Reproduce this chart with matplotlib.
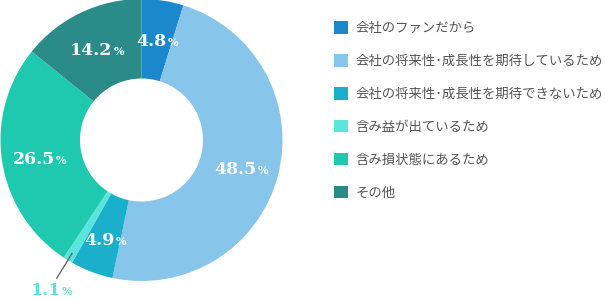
import numpy as np
import matplotlib
matplotlib.use('Agg')
import matplotlib.pyplot as plt
from matplotlib.patches import Patch
from matplotlib.offsetbox import TextArea, HPacker, AnnotationBbox

plt.rcParams['font.family'] = ['Noto Sans CJK JP', 'DejaVu Sans']

categories = ['会社のファンだから',
              '会社の将来性･成長性を期待しているため',
              '会社の将来性･成長性を期待できないため',
              '含み益が出ているため',
              '含み損状態にあるため',
              'その他']
values = [4.8, 48.5, 4.9, 1.1, 26.5, 14.2]
value_labels = ['4.8', '48.5', '4.9', '1.1', '26.5', '14.2']
colors = ['#1b88cc', '#88c5ea', '#1ab0cc', '#5ae4dc', '#1fc9b0', '#2a8b88']

# layout in pixel units (figure is 605x300)
cx, cy = 141.5, 160
r_out, r_in = 141, 61.5

fig = plt.figure(figsize=(6.05, 3.0), dpi=100)
ax = fig.add_axes([0, 0, 1, 1])
wedges, _ = ax.pie(values, colors=colors, startangle=90, counterclock=False,
                   radius=r_out, center=(cx, cy), frame=True,
                   wedgeprops=dict(width=r_out - r_in, edgecolor='none'))
ax.set_xlim(0, 605)
ax.set_ylim(0, 300)
ax.set_aspect('equal')
ax.axis('off')


def pct_label(x, y, num, color):
    big = TextArea(num, textprops=dict(family='DejaVu Serif', weight='bold',
                                       size=12.5, color=color))
    small = TextArea('%', textprops=dict(family='DejaVu Serif', weight='bold',
                                         size=8, color=color))
    box = HPacker(children=[big, small], align='baseline', pad=0, sep=1)
    ab = AnnotationBbox(box, (x, y), frameon=False, box_alignment=(0.5, 0.5))
    ax.add_artist(ab)


r_mid = (r_out + r_in) / 2 + 2
for w, lab, v in zip(wedges, value_labels, values):
    ang = np.deg2rad((w.theta1 + w.theta2) / 2)
    dx, dy = np.cos(ang), np.sin(ang)
    if v < 2:
        # small slice: leader line and outside label
        ax.plot([cx + dx * 133, cx + dx * 162], [cy + dy * 133, cy + dy * 162],
                color='#666666', lw=1)
        pct_label(cx + dx * 176 + 2, cy + dy * 176, lab, '#5ae4dc')
    else:
        pct_label(cx + dx * r_mid, cy + dy * r_mid - 4, lab, 'white')

handles = [Patch(facecolor=c, edgecolor='none') for c in colors]
fig.legend(handles, categories, loc='upper left',
           bbox_to_anchor=(334 / 605, 1 - 21 / 300), frameon=False,
           fontsize=9.6, labelcolor='#555555', handlelength=1.05,
           handleheight=1.05, handletextpad=0.6, labelspacing=1.42,
           borderpad=0, borderaxespad=0)

fig.savefig('out.png', dpi=100)
